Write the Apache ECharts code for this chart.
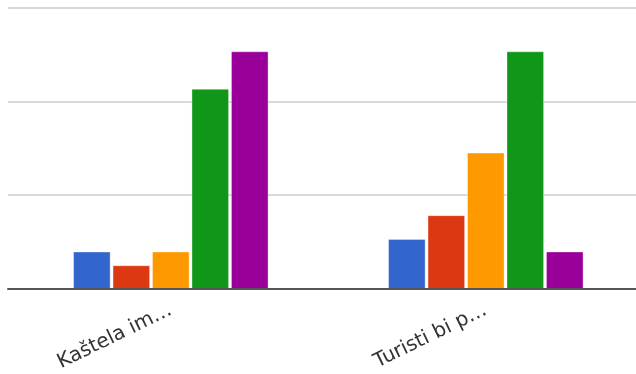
<!DOCTYPE html>
<html>
<head>
<meta charset="utf-8">
<script src="https://cdn.jsdelivr.net/npm/echarts@6/dist/echarts.min.js"></script>
<style>
  html, body { margin: 0; padding: 0; background: #fff; overflow: hidden; }
  /* a little wider than the window: the second category slot runs past the right edge */
  #chart { width: 650px; height: 374px; }
</style>
</head>
<body>
<div id="chart"></div>
<script>
// categories (x axis labels, already truncated as in the picture)
const categories = ["Kaštela im…", "Turisti bi p…"];

// one array per answer option (counts)
const option1 = [3, 4];
const option2 = [1.9, 5.9];
const option3 = [3, 10.9];
const option4 = [16, 19];
const option5 = [19, 3];

const seriesNames = ["1", "2", "3", "4", "5"];
const seriesData = [option1, option2, option3, option4, option5];
const colors = ["#3366cc", "#dc3912", "#ff9900", "#109618", "#990099"];

// value axis
const yMax = 22.5;
const yStep = 7.5;

const chart = echarts.init(document.getElementById("chart"));

const option = {
  animation: false,
  color: colors,
  grid: [
    // grid 0: only gridlines + baseline (ends at the window edge, x = 636)
    { left: 8, right: 14, top: 7.5, bottom: 85, containLabel: false },
    // grid 1: the bars
    { left: 13.3, right: 6.7, top: 7.5, bottom: 85, containLabel: false }
  ],
  xAxis: [
    {
      gridIndex: 0,
      type: "category",
      data: [""],
      axisTick: { show: false },
      axisLabel: { show: false },
      axisLine: { show: true, lineStyle: { color: "#555", width: 2 } },
      z: 5
    },
    {
      gridIndex: 1,
      type: "category",
      data: categories,
      axisTick: { show: false },
      axisLine: { show: false },
      axisLabel: {
        rotate: 26,
        margin: 20,
        color: "#333",
        fontFamily: "DejaVu Sans, sans-serif",
        fontSize: 20
      }
    }
  ],
  yAxis: [
    {
      gridIndex: 0,
      type: "value",
      min: 0,
      max: yMax,
      interval: yStep,
      axisLabel: { show: false },
      axisLine: { show: false },
      axisTick: { show: false },
      splitLine: { lineStyle: { color: "#cccccc", width: 1.5 } }
    },
    {
      gridIndex: 1,
      type: "value",
      min: 0,
      max: yMax,
      interval: yStep,
      show: false,
      splitLine: { show: false }
    }
  ],
  series: seriesData.map((d, i) => ({
    name: seriesNames[i],
    type: "bar",
    xAxisIndex: 1,
    yAxisIndex: 1,
    data: d,
    barWidth: 37.6,
    barGap: "5%",
    itemStyle: {
      color: colors[i],
      borderColor: "rgba(255,255,255,0.35)",
      borderWidth: 1
    }
  }))
};

chart.setOption(option);
</script>
</body>
</html>
